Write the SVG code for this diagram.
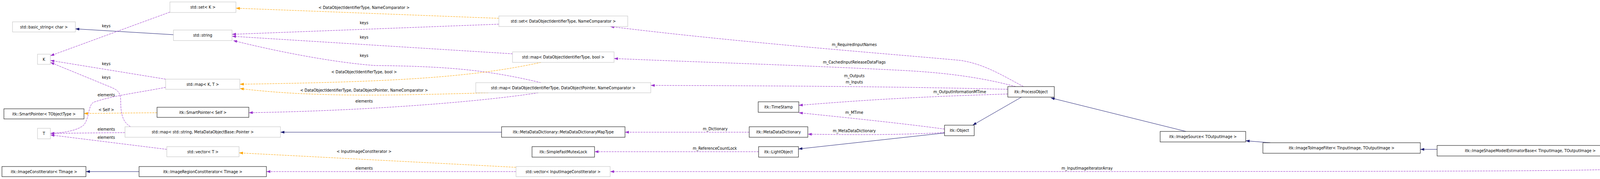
<svg xmlns="http://www.w3.org/2000/svg" width="4693" height="459" viewBox="0 0 4693 459">
<style>
text{font-family:"DejaVu Sans","Liberation Sans",sans-serif;font-size:9.6px;fill:#000}
.n text{text-anchor:middle}
.ext{fill:#fff;stroke:#bfbfbf;stroke-width:1}
.cls{fill:#fff;stroke:#000;stroke-width:1}
.cur{fill:#bfbfbf;stroke:#000;stroke-width:1}
.inh{fill:none;stroke:#191970;stroke-width:1;marker-end:url(#an)}
.use{fill:none;stroke:#9a32cd;stroke-width:1;stroke-dasharray:5,2;marker-end:url(#ap)}
.tpl{fill:none;stroke:#ffa500;stroke-width:1;stroke-dasharray:5,2;marker-end:url(#ao)}
.lbl text{text-anchor:middle}
</style>
<defs>
<marker id="an" markerUnits="userSpaceOnUse" markerWidth="11" markerHeight="8" refX="10" refY="3.5" orient="auto"><path d="M0,0L10,3.5L0,7z" fill="#191970"/></marker>
<marker id="ap" markerUnits="userSpaceOnUse" markerWidth="11" markerHeight="8" refX="10" refY="3.5" orient="auto"><path d="M0,0L10,3.5L0,7z" fill="#9a32cd"/></marker>
<marker id="ao" markerUnits="userSpaceOnUse" markerWidth="11" markerHeight="8" refX="10" refY="3.5" orient="auto"><path d="M0,0L10,3.5L0,7z" fill="#ffa500"/></marker>
</defs>
<rect width="4693" height="459" fill="#fff"/>
<g id="connectors">
<path class="inh" d="M444,89L193,74"/>
<path class="use" d="M435,31L129,143"/>
<path class="use" d="M424,203L129,155"/>
<path class="use" d="M334,325C318,315 309,300 309,260C309,235 300,230 280,222L129,160"/>
<path class="use" d="M424,224C340,240 290,245 240,262C225,270 230,300 215,320C200,335 160,341 129,342"/>
<path class="use" d="M320,340L129,342"/>
<path class="use" d="M427,383L129,346"/>
<path class="tpl" d="M402,289L215,291"/>
<path class="inh" d="M356,440L220,440"/>
<path class="tpl" d="M1277,47L604,21"/>
<path class="use" d="M1277,62L594,88"/>
<path class="use" d="M1312,138L594,93"/>
<path class="use" d="M1385,212C1250,180 1150,170 960,168C850,160 700,130 597,104"/>
<path class="tpl" d="M1385,160C1200,200 1000,210 614,216"/>
<path class="tpl" d="M1250,238C1000,245 800,250 614,227"/>
<path class="use" d="M1378,238C1200,265 900,285 637,289"/>
<path class="inh" d="M1284,339L718,339"/>
<path class="tpl" d="M1321,429L612,392"/>
<path class="use" d="M1321,440L682,440"/>
<path class="use" d="M2620,222C2560,190 2520,165 2460,155C2300,140 1900,110 1562,68"/>
<path class="use" d="M2600,222C2500,195 2400,185 2300,180C2000,165 1800,160 1572,150"/>
<path class="use" d="M2580,229C2300,222 2000,220 1666,219"/>
<path class="use" d="M2580,241C2300,250 2200,258 2045,270"/>
<path class="use" d="M2418,331C2300,315 2150,300 2045,289"/>
<path class="use" d="M2418,340C2300,346 2200,346 2068,344"/>
<path class="inh" d="M2418,341L2044,382"/>
<path class="inh" d="M2615,249L2490,321"/>
<path class="use" d="M1918,339L1600,339"/>
<path class="use" d="M1942,389L1522,389"/>
<path class="inh" d="M3036,337L2690,251"/>
<path class="inh" d="M3252,366L3189,361"/>
<path class="inh" d="M3679,383L3636,383"/>
<path class="inh" d="M4210,405L4140,400"/>
<path class="use" d="M4200,432C4000,440 3800,440 1562,440"/>
</g>
<g class="lbl">
<text x="272" y="70">keys</text>
<text x="272" y="167">keys</text>
<text x="272" y="202">keys</text>
<text x="272" y="247">elements</text>
<text x="272" y="285">&lt; Self &gt;</text>
<text x="272" y="335">elements</text>
<text x="272" y="356">elements</text>
<text x="932" y="23">&lt; DataObjectIdentifierType, NameComparator &gt;</text>
<text x="932" y="62">keys</text>
<text x="932" y="99">keys</text>
<text x="932" y="146">keys</text>
<text x="932" y="188">&lt; DataObjectIdentifierType, bool &gt;</text>
<text x="932" y="235">&lt; DataObjectIdentifierType, DataObjectPointer, NameComparator &gt;</text>
<text x="932" y="263">elements</text>
<text x="932" y="392">&lt; InputImageConstIterator &gt;</text>
<text x="932" y="435">elements</text>
<text x="2187" y="118">m_RequiredInputNames</text>
<text x="2187" y="163">m_CachedInputReleaseDataFlags</text>
<text x="2187" y="198">m_Outputs</text>
<text x="2187" y="214">m_Inputs</text>
<text x="2457" y="239">m_OutputInformationMTime</text>
<text x="2187" y="292">m_MTime</text>
<text x="2187" y="339">m_MetaDataDictionary</text>
<text x="1831" y="334">m_Dictionary</text>
<text x="1830" y="384">m_ReferenceCountLock</text>
<text x="2783" y="435">m_InputImageIteratorArray</text>
</g>
<g class="n" id="n_setK"><rect class="ext" x="435" y="5" width="169" height="27"/><text x="519.5" y="22">std::set&lt; K &gt;</text></g>
<g class="n" id="n_basicstring"><rect class="ext" x="32" y="56" width="161" height="26"/><text x="112.5" y="73">std::basic_string&lt; char &gt;</text></g>
<g class="n" id="n_string"><rect class="ext" x="444" y="77" width="150" height="27"/><text x="519" y="94">std::string</text></g>
<g class="n" id="n_K"><rect class="ext" x="96" y="139" width="33" height="26"/><text x="112.5" y="156">K</text></g>
<g class="n" id="n_mapKT"><rect class="ext" x="424" y="203" width="190" height="26"/><text x="519" y="220">std::map&lt; K, T &gt;</text></g>
<g class="n" id="n_spT"><rect class="cls" x="10" y="279" width="205" height="26"/><text x="112.5" y="296">itk::SmartPointer&lt; TObjectType &gt;</text></g>
<g class="n" id="n_spSelf"><rect class="cls" x="402" y="275" width="235" height="26"/><text x="519.5" y="292">itk::SmartPointer&lt; Self &gt;</text></g>
<g class="n" id="n_T"><rect class="ext" x="96" y="329" width="33" height="27"/><text x="112.5" y="346">T</text></g>
<g class="n" id="n_mapMD"><rect class="ext" x="320" y="325" width="398" height="27"/><text x="519" y="342">std::map&lt; std::string, MetaDataObjectBase::Pointer &gt;</text></g>
<g class="n" id="n_vecT"><rect class="ext" x="427" y="376" width="185" height="26"/><text x="519.5" y="393">std::vector&lt; T &gt;</text></g>
<g class="n" id="n_ici"><rect class="cls" x="5" y="427" width="215" height="26"/><text x="112.5" y="444">itk::ImageConstIterator&lt; TImage &gt;</text></g>
<g class="n" id="n_irci"><rect class="cls" x="356" y="427" width="326" height="26"/><text x="519" y="444">itk::ImageRegionConstIterator&lt; TImage &gt;</text></g>
<g class="n" id="n_setDO"><rect class="ext" x="1277" y="41" width="330" height="27"/><text x="1442" y="58">std::set&lt; DataObjectIdentifierType, NameComparator &gt;</text></g>
<g class="n" id="n_mapBool"><rect class="ext" x="1312" y="133" width="260" height="27"/><text x="1442" y="150">std::map&lt; DataObjectIdentifierType, bool &gt;</text></g>
<g class="n" id="n_mapDOP"><rect class="ext" x="1218" y="212" width="448" height="26"/><text x="1442" y="229">std::map&lt; DataObjectIdentifierType, DataObjectPointer, NameComparator &gt;</text></g>
<g class="n" id="n_mdmt"><rect class="cls" x="1284" y="325" width="316" height="27"/><text x="1442" y="342">itk::MetaDataDictionary::MetaDataDictionaryMapType</text></g>
<g class="n" id="n_sfml"><rect class="cls" x="1362" y="376" width="160" height="27"/><text x="1442" y="393">itk::SimpleFastMutexLock</text></g>
<g class="n" id="n_vecICI"><rect class="ext" x="1321" y="427" width="241" height="26"/><text x="1441.5" y="444">std::vector&lt; InputImageConstIterator &gt;</text></g>
<g class="n" id="n_ts"><rect class="cls" x="1941" y="261" width="104" height="27"/><text x="1993" y="278">itk::TimeStamp</text></g>
<g class="n" id="n_mdd"><rect class="cls" x="1918" y="325" width="150" height="27"/><text x="1993" y="342">itk::MetaDataDictionary</text></g>
<g class="n" id="n_lo"><rect class="cls" x="1942" y="376" width="102" height="27"/><text x="1993" y="393">itk::LightObject</text></g>
<g class="n" id="n_po"><rect class="cls" x="2580" y="222" width="119" height="27"/><text x="2639.5" y="239">itk::ProcessObject</text></g>
<g class="n" id="n_obj"><rect class="cls" x="2418" y="321" width="76" height="27"/><text x="2456" y="338">itk::Object</text></g>
<g class="n" id="n_is"><rect class="cls" x="2970" y="337" width="219" height="27"/><text x="3079.5" y="354">itk::ImageSource&lt; TOutputImage &gt;</text></g>
<g class="n" id="n_itif"><rect class="cls" x="3233" y="366" width="403" height="27"/><text x="3434.5" y="383">itk::ImageToImageFilter&lt; TInputImage, TOutputImage &gt;</text></g>
<g class="n" id="n_isme"><rect class="cls" x="3679" y="373" width="477" height="27"/><text x="3917.5" y="390">itk::ImageShapeModelEstimatorBase&lt; TInputImage, TOutputImage &gt;</text></g>
<g class="n" id="n_pca"><rect class="cur" x="4198" y="405" width="380" height="27"/><text x="4388" y="422">itk::ImagePCAShapeModelEstimator&lt; TInputImage, TOutputImage &gt;</text></g>
</svg>
